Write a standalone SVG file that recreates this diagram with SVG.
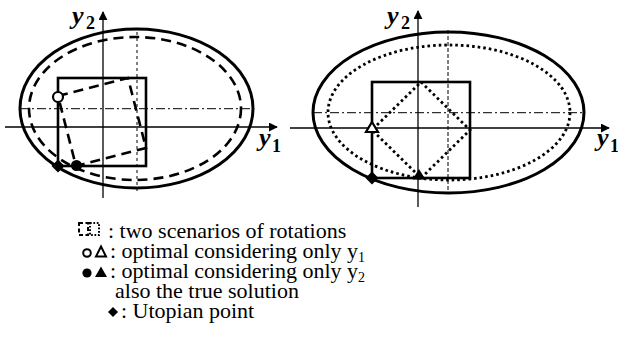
<svg xmlns="http://www.w3.org/2000/svg" width="618" height="363" viewBox="0 0 618 363">
<style>
.bg{fill:#fff}
.axis{stroke:#000;stroke-width:1.3;fill:none}
.thick{stroke:#000;stroke-width:3;fill:none}
.sq{stroke:#000;stroke-width:2.6;fill:none}
.dash{stroke:#000;stroke-width:2.6;fill:none;stroke-dasharray:10 6}
.dot{stroke:#000;stroke-width:2.8;fill:none;stroke-dasharray:2.6 3}
.dashdot{stroke:#000;stroke-width:1;fill:none;stroke-dasharray:9 3 2 3}
.vdot{stroke:#000;stroke-width:1;fill:none;stroke-dasharray:3 3}
</style>
<defs>
<marker id="arr" viewBox="0 0 10 10" refX="9" refY="5" markerWidth="9" markerHeight="9" markerUnits="userSpaceOnUse" orient="auto">
<path d="M0,0 L10,5 L0,10 z" fill="#000"/>
</marker>
</defs>
<rect class="bg" x="0" y="0" width="618" height="363"/>

<g id="left-panel">
<ellipse class="thick" cx="136.5" cy="108.5" rx="116.5" ry="79.5"/>
<ellipse class="dash" cx="135" cy="108.5" rx="106" ry="71.5"/>
<line class="dashdot" x1="20" y1="108.7" x2="252" y2="108.7"/>
<line class="vdot" x1="137" y1="32" x2="137" y2="193"/>
<rect class="sq" x="58" y="78" width="88" height="88"/>
<polygon class="dash" points="58,96 128,78 146,148 76,166"/>
</g>

<g id="right-panel">
<ellipse class="thick" cx="448.5" cy="112.5" rx="135.5" ry="80.5"/>
<ellipse class="dot" cx="449" cy="112.5" rx="121" ry="67.5"/>
<line class="dashdot" x1="313" y1="112.7" x2="584" y2="112.7"/>
<line class="vdot" x1="448" y1="30" x2="448" y2="193" style="stroke-dasharray:4 2"/>
<rect class="sq" x="372" y="82" width="98" height="96"/>
<polygon class="dot" points="421,82 470,130 421,178 372,130"/>
</g>

<g id="connectors">
<line class="axis" x1="5" y1="127" x2="277" y2="127" marker-end="url(#arr)"/>
<line class="axis" x1="103" y1="198" x2="103" y2="12" marker-end="url(#arr)"/>
<line class="axis" x1="290" y1="128" x2="609" y2="128" marker-end="url(#arr)"/>
<line class="axis" x1="418" y1="207" x2="418" y2="11" marker-end="url(#arr)"/>
</g>

<g id="markers">
<circle cx="58" cy="97" r="5" fill="#fff" stroke="#000" stroke-width="2.2"/>
<circle cx="76.5" cy="165.5" r="5.5" fill="#000"/>
<polygon points="58,159.5 64.5,166 58,172.5 51.5,166" fill="#000"/>
<polygon points="372,122 378,132 366,132" fill="#fff" stroke="#000" stroke-width="2.2"/>
<polygon points="419,169 425.5,179.5 412.5,179.5" fill="#000"/>
<polygon points="372,171.5 378.5,178 372,184.5 365.5,178" fill="#000"/>
</g>

<g id="labels">
<text x="72" y="24" font-family="Liberation Serif" font-weight="bold" font-style="italic" font-size="26">y</text>
<text x="86" y="29" font-family="Liberation Serif" font-weight="bold" font-size="18">2</text>
<text x="259" y="146" font-family="Liberation Serif" font-weight="bold" font-style="italic" font-size="26">y</text>
<text x="272" y="152" font-family="Liberation Serif" font-weight="bold" font-size="18">1</text>
<text x="387" y="24" font-family="Liberation Serif" font-weight="bold" font-style="italic" font-size="26">y</text>
<text x="401" y="29" font-family="Liberation Serif" font-weight="bold" font-size="18">2</text>
<text x="597" y="146" font-family="Liberation Serif" font-weight="bold" font-style="italic" font-size="26">y</text>
<text x="610" y="152" font-family="Liberation Serif" font-weight="bold" font-size="18">1</text>
</g>

<g id="legend">
<rect x="79" y="223" width="9" height="12" fill="none" stroke="#000" stroke-width="2" stroke-dasharray="4 2.5"/>
<rect x="90" y="223" width="9" height="12" fill="none" stroke="#000" stroke-width="2" stroke-dasharray="1.7 1.7"/>
<text x="108" y="238" font-family="Liberation Serif" font-size="22">: two scenarios of rotations</text>
<circle cx="87" cy="253" r="3.8" fill="#fff" stroke="#000" stroke-width="2"/>
<polygon points="101,246.5 106,256.5 96,256.5" fill="#fff" stroke="#000" stroke-width="2"/>
<text x="110" y="258" font-family="Liberation Serif" font-size="22">: optimal considering only y<tspan font-size="14" dy="4">1</tspan></text>
<circle cx="87" cy="273" r="4.6" fill="#000"/>
<polygon points="101,266.5 107,277 95,277" fill="#000"/>
<text x="110" y="278" font-family="Liberation Serif" font-size="22">: optimal considering only y<tspan font-size="14" dy="4">2</tspan></text>
<text x="115" y="298" font-family="Liberation Serif" font-size="22">also the true solution</text>
<polygon points="113,307 118,312 113,317 108,312" fill="#000"/>
<text x="121" y="318" font-family="Liberation Serif" font-size="22">: Utopian point</text>
</g>
</svg>
